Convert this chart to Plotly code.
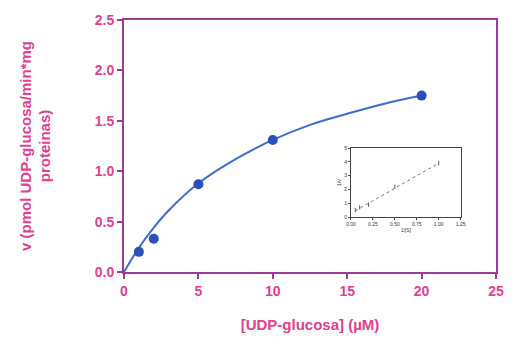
import plotly.graph_objects as go

# Main data: substrate concentration vs velocity
s_conc = [1, 2, 5, 10, 20]
velocity = [0.20, 0.33, 0.87, 1.31, 1.75]

# Fitted curve
curve_s = [0, 1, 2, 3, 5, 7.5, 10, 12.5, 15, 17.5, 20]
curve_v = [0.0, 0.24, 0.44, 0.61, 0.88, 1.12, 1.31, 1.46, 1.57, 1.67, 1.75]

# Inset (Lineweaver-Burk) data
inv_s = [0.05, 0.1, 0.2, 0.5, 1.0]
inv_v = [0.5, 0.7, 0.9, 2.2, 3.9]
inset_line_x = [0.05, 1.0]
inset_line_y = [0.45, 3.9]

x_ticks = [0, 5, 10, 15, 20, 25]
y_ticks = [0.0, 0.5, 1.0, 1.5, 2.0, 2.5]
ix_ticks = [0.00, 0.25, 0.50, 0.75, 1.00, 1.25]
iy_ticks = [0, 1, 2, 3, 4, 5]

axis_col = "#9a3a9a"
tick_col = "#e0408c"
blue_line = "#3d6cd0"
blue_pt = "#2a4fb8"

fig = go.Figure()
fig.add_trace(go.Scatter(x=curve_s, y=curve_v, mode="lines",
                         line=dict(color=blue_line, width=2, shape="spline"),
                         hoverinfo="skip", showlegend=False))
fig.add_trace(go.Scatter(x=s_conc, y=velocity, mode="markers",
                         marker=dict(color=blue_pt, size=10),
                         showlegend=False))
fig.add_trace(go.Scatter(x=inset_line_x, y=inset_line_y, mode="lines",
                         line=dict(color="#777777", width=1, dash="dot"),
                         xaxis="x2", yaxis="y2", showlegend=False))
fig.add_trace(go.Scatter(x=inv_s, y=inv_v, mode="markers",
                         marker=dict(color="#555555", size=3, symbol="line-ns-open",
                                     line=dict(width=1, color="#555555")),
                         xaxis="x2", yaxis="y2", showlegend=False))

font_main = "Liberation Sans, Arial, sans-serif"
tickfont = dict(size=14, color=tick_col, family=font_main, weight="bold")
titlefont = dict(size=15, color=tick_col, family=font_main, weight="bold")

fig.update_layout(
    width=514, height=354,
    margin=dict(l=124, r=10, t=20, b=82),
    paper_bgcolor="white", plot_bgcolor="white",
    font=dict(family=font_main, color=tick_col),
    xaxis=dict(range=[0, 25], tickvals=x_ticks, ticktext=[str(t) for t in x_ticks],
               showgrid=False, zeroline=False, showline=True, linecolor=axis_col,
               linewidth=2, mirror=True, ticks="outside", tickcolor=axis_col,
               ticklen=5, tickwidth=2, tickfont=tickfont,
               title=dict(text="[UDP-glucosa] (µM)", standoff=22, font=titlefont)),
    yaxis=dict(range=[0, 2.5], tickvals=y_ticks, ticktext=["%.1f" % t for t in y_ticks],
               showgrid=False, zeroline=False, showline=True, linecolor=axis_col,
               linewidth=2, mirror=True, ticks="outside", tickcolor=axis_col,
               ticklen=5, tickwidth=2, tickfont=tickfont,
               title=dict(text="v (pmol UDP-glucosa/min*mg<br>proteinas)", standoff=40,
                          font=titlefont)),
    xaxis2=dict(domain=[0.61, 0.905], anchor="y2", range=[0, 1.25], tickvals=ix_ticks,
                ticktext=["%.2f" % t for t in ix_ticks],
                showgrid=False, zeroline=False, showline=True, linecolor="#444444",
                linewidth=1, mirror=True, ticks="outside", ticklen=2, tickcolor="#444444",
                tickfont=dict(size=5, color="#333333"),
                title=dict(text="1/[S]", standoff=2, font=dict(size=5, color="#333333"))),
    yaxis2=dict(domain=[0.218, 0.492], anchor="x2", range=[0, 5], tickvals=iy_ticks,
                showgrid=False, zeroline=False, showline=True, linecolor="#444444",
                linewidth=1, mirror=True, ticks="outside", ticklen=2, tickcolor="#444444",
                tickfont=dict(size=5, color="#333333"),
                title=dict(text="1/v", standoff=2, font=dict(size=5, color="#333333"))),
)

fig.write_html("out.html")
